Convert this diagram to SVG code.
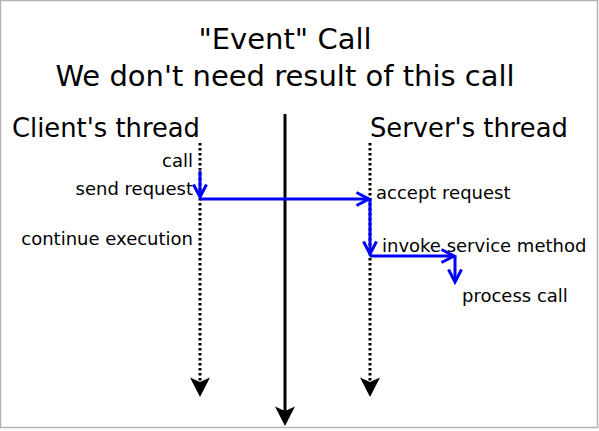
<svg xmlns="http://www.w3.org/2000/svg" width="599" height="431" viewBox="0 0 599 431">
<style>
text{font-family:"DejaVu Sans",sans-serif;fill:#000}
.title{font-size:29px;text-anchor:middle}
.head{font-size:25.8px}
.lbl{font-size:18px}
.r{text-anchor:end}
.dot{stroke:#000;stroke-width:3;stroke-dasharray:2.5,2.5;fill:none}
.blue{stroke:#0000ff;stroke-width:3;fill:none}
.head-blk{fill:#000;stroke:none}
</style>
<defs>
<path id="ablk" d="M-10,-19.5 L0,0 L10,-19.5 L0,-15 Z"/>
<path id="achev" d="M-6.5,-12.5 L0,0 L6.5,-12.5"/>
</defs>
<rect x="0.5" y="0.5" width="597" height="427" fill="#fff" stroke="#b3b3b3" stroke-width="1.5"/>
<g id="title">
<text class="title" x="285" y="49">"Event" Call</text>
<text class="title" x="285" y="86">We don't need result of this call</text>
</g>
<g id="client">
<text class="head" x="12" y="137">Client's thread</text>
<text class="lbl r" x="193" y="167">call</text>
<text class="lbl r" x="193" y="195">send request</text>
<text class="lbl r" x="193" y="245">continue execution</text>
</g>
<g id="server">
<text class="head" x="370" y="137">Server's thread</text>
<text class="lbl" x="376" y="199">accept request</text>
<text class="lbl" x="382" y="252">invoke service method</text>
<text class="lbl" x="462" y="302">process call</text>
</g>
<g id="connectors">
<line class="dot" x1="200" y1="143" x2="200" y2="384"/>
<use href="#ablk" class="head-blk" transform="translate(200,397)"/>
<line class="dot" x1="370" y1="143" x2="370" y2="384"/>
<use href="#ablk" class="head-blk" transform="translate(370,397)"/>
<line x1="285" y1="114" x2="285" y2="414" stroke="#000" stroke-width="3"/>
<use href="#ablk" class="head-blk" transform="translate(285,426)"/>
<line class="blue" x1="200" y1="171" x2="200" y2="197"/>
<use href="#achev" class="blue" transform="translate(200,197)"/>
<line class="blue" x1="200" y1="199" x2="369" y2="199"/>
<use href="#achev" class="blue" transform="translate(369,199) rotate(-90)"/>
<line class="blue" x1="370" y1="199" x2="370" y2="254"/>
<use href="#achev" class="blue" transform="translate(370,254)"/>
<line class="blue" x1="370" y1="256" x2="454" y2="256"/>
<use href="#achev" class="blue" transform="translate(454,256) rotate(-90)"/>
<line class="blue" x1="455" y1="256" x2="455" y2="282"/>
<use href="#achev" class="blue" transform="translate(455,282)"/>
</g>
</svg>
